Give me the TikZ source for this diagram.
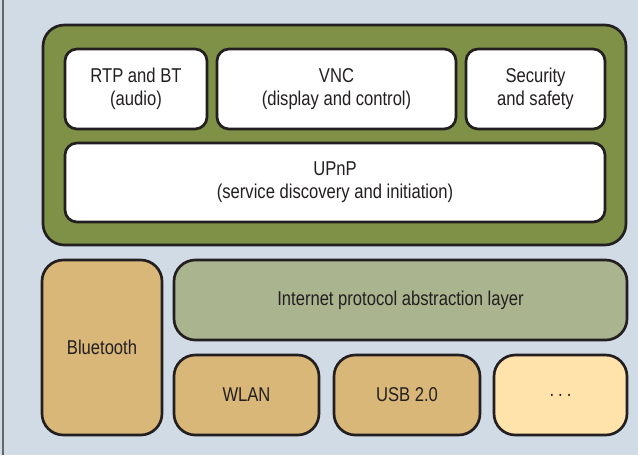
\documentclass[tikz,border=0pt]{standalone}
\usepackage{fontspec}
\setmainfont[FakeStretch=0.83]{Liberation Sans}
\definecolor{bgblue}{HTML}{D0DBE5}
\definecolor{leafgreen}{HTML}{7E9146}
\definecolor{sage}{HTML}{AAB48E}
\definecolor{tan}{HTML}{D9B778}
\definecolor{cream}{HTML}{FFE3AA}
\definecolor{ink}{HTML}{231F20}
\def\px{0.75pt}
\tikzset{
  blk/.style n args={2}{draw=ink, line width=2pt, inner sep=0pt, outer sep=0pt,
    minimum width=#1*\px, minimum height=#2*\px, align=center, text=ink,
    font=\fontsize{15}{17.5}\selectfont},
  upper/.style={rounded corners=9pt, fill=white},
  lower/.style={rounded corners=16pt},
}
\begin{document}
\begin{tikzpicture}[x=\px, y=-\px]
  \fill[bgblue] (0,0) rectangle (638,455);
  \useasboundingbox (0,0) rectangle (638,455);
  \draw[gray!80!black, line width=1.2pt] (3,0) -- (3,455);

  % application stack
  \node[blk={583}{220}, fill=leafgreen, rounded corners=16pt] (stack) at (334.5,135) {};
  \node[blk={142}{80}, upper] (rtp) at (136,89) {RTP and BT\\(audio)};
  \node[blk={239}{80}, upper] (vnc) at (336.5,89) {VNC\\(display and control)};
  \node[blk={139}{80}, upper] (sec) at (535.5,89) {Security\\and safety};
  \node[blk={540}{79}, upper] (upnp) at (335,182.5) {UPnP\\(service discovery and initiation)};

  % transports
  \node[blk={120}{175}, lower, fill=tan] (bt) at (102,347.5) {Bluetooth};
  \node[blk={453}{80}, lower, fill=sage] (ip) at (400.5,300) {Internet protocol abstraction layer};
  \node[blk={145}{80}, lower, fill=tan] (wlan) at (246.5,395) {WLAN};
  \node[blk={146}{80}, lower, fill=tan] (usb) at (407,395) {USB 2.0};
  \node[blk={133}{80}, lower, fill=cream] (more) at (560.5,395) {.\hspace{0.2em}.\hspace{0.2em}.};
\end{tikzpicture}
\end{document}
